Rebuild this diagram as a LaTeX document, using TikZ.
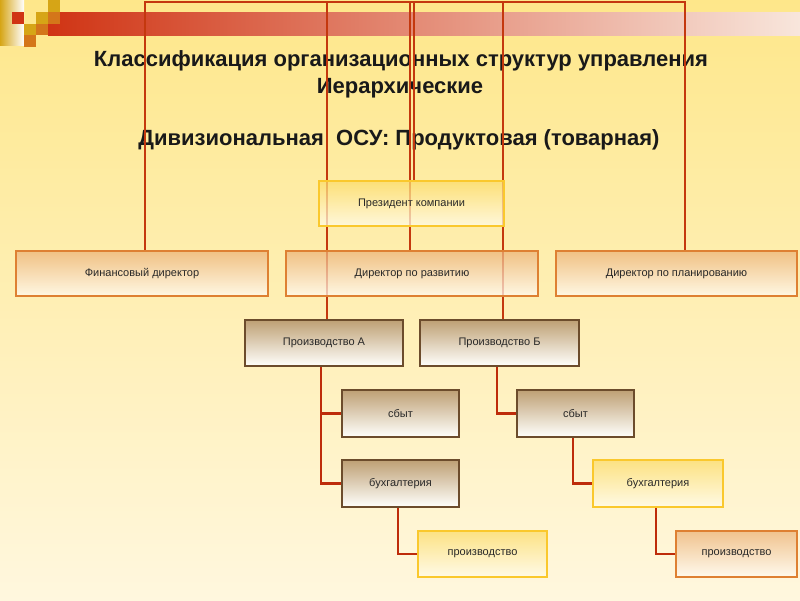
\documentclass[tikz,border=0pt]{standalone}
\usepackage{fontspec}
\setmainfont{Liberation Sans}
\usetikzlibrary{calc}
\pgfdeclarelayer{back}
\pgfdeclarelayer{mid}
\pgfsetlayers{back,mid,main}
\definecolor{bgtop}{RGB}{254,231,138}
\definecolor{bgbot}{RGB}{255,247,222}
\definecolor{linec}{RGB}{196,56,14}
\definecolor{connc}{RGB}{190,44,10}
\definecolor{ybord}{RGB}{250,200,45}
\definecolor{ytop}{RGB}{252,220,105}
\definecolor{ybot}{RGB}{255,252,236}
\definecolor{obord}{RGB}{222,128,50}
\definecolor{otop}{RGB}{236,178,118}
\definecolor{obot}{RGB}{255,251,244}
\definecolor{bbord}{RGB}{108,76,44}
\definecolor{btop}{RGB}{190,160,116}
\definecolor{bbot}{RGB}{255,255,252}
\definecolor{txt}{RGB}{40,40,40}
\definecolor{gold}{RGB}{214,165,22}
\definecolor{decred}{RGB}{208,52,20}
\definecolor{decor}{RGB}{212,118,26}
\tikzset{
  boxbase/.style={rectangle, inner sep=0pt, font=\fontsize{11}{13}\selectfont, text=txt},
  ybox/.style={boxbase, draw=ybord, line width=1.6pt, top color=ytop, bottom color=ybot, fill opacity=0.74, text opacity=1, draw opacity=1},
  obox/.style={boxbase, draw=obord, line width=1.6pt, top color=otop, bottom color=obot, fill opacity=0.74, text opacity=1, draw opacity=1},
  bbox/.style={boxbase, draw=bbord, line width=2pt, top color=btop, bottom color=bbot},
  topline/.style={draw=linec, line width=2pt},
  conn/.style={draw=connc, line width=2.6pt},
  titletext/.style={font=\bfseries\fontsize{22}{26}\selectfont, text=black!90, align=center}
}
\begin{document}
\begin{tikzpicture}[x=1pt,y=-1pt]
\useasboundingbox (0,0) rectangle (800,600);
\begin{pgfonlayer}{back}
% background
\shade[top color=bgtop, bottom color=bgbot] (0,0) rectangle (800,600);
% decoration
\shade[left color=gold, right color=white] (0,0) rectangle (24,45);
\shade[left color=decred, right color={rgb,255:red,248;green,230;blue,220}] (48,12) rectangle (800,35);
\fill[decred] (12,12) rectangle (24,24);
\fill[gold] (48,0) rectangle (60,12);
\fill[gold] (36,12) rectangle (48,24);
\fill[decor] (48,12) rectangle (60,24);
\fill[gold] (24,24) rectangle (36,35);
\fill[decor] (36,24) rectangle (48,35);
\fill[decor] (24,35) rectangle (36,47);
% title
\node[titletext] (title1) at (401,61) {Классификация организационных структур управления};
\node[titletext] (title2) at (400,88) {Иерархические};
\node[titletext] (title3) at (399,140) {Дивизиональная\ \ ОСУ: Продуктовая (товарная)};
\end{pgfonlayer}
% nodes
\node[ybox, minimum width=185pt, minimum height=45pt] (pres) at (411.5,203.5) {Президент компании};
\node[obox, minimum width=252pt, minimum height=45pt] (fin) at (142,273.5) {Финансовый директор};
\node[obox, minimum width=252pt, minimum height=45pt] (dev) at (412,273.5) {Директор по развитию};
\node[obox, minimum width=241pt, minimum height=45pt] (plan) at (676.5,273.5) {Директор по планированию};
\node[bbox, minimum width=158pt, minimum height=46pt] (pa) at (324,343) {Производство А};
\node[bbox, minimum width=159pt, minimum height=46pt] (pb) at (499.5,343) {Производство Б};
\node[bbox, minimum width=117pt, minimum height=47pt] (sa) at (400.5,413.5) {сбыт};
\node[bbox, minimum width=117pt, minimum height=47pt] (sb) at (575.5,413.5) {сбыт};
\node[bbox, minimum width=117pt, minimum height=47pt] (ba) at (400.5,483.5) {бухгалтерия};
\node[ybox, minimum width=130pt, minimum height=47pt] (bb) at (658,483.5) {бухгалтерия};
\node[ybox, minimum width=129pt, minimum height=46pt] (pra) at (482.5,554) {производство};
\node[obox, minimum width=121pt, minimum height=46pt] (prb) at (736.5,554) {производство};
% connectors
\coordinate (t1) at (145,2);
\coordinate (t2) at (327,2);
\coordinate (t3) at (410,2);
\coordinate (t4) at (414,2);
\coordinate (t5) at (503,2);
\coordinate (t6) at (685,2);
\begin{pgfonlayer}{mid}
\draw[topline, line cap=rect] (t1) -- (t6);
\draw[topline] (t1) -- (t1 |- fin.north);
\draw[topline] (t2) -- (t2 |- pa.north);
\draw[topline] (t3) -- (t3 |- dev.north);
\draw[topline] (t4) -- (t4 |- pres.north);
\draw[topline] (t5) -- (t5 |- pb.north);
\draw[topline] (t6) -- (t6 |- plan.north);
\draw[conn] ([xshift=-3pt]pa.south) |- (sa.west);
\draw[conn] ([xshift=-3pt]pa.south) |- (ba.west);
\draw[conn] ([xshift=-2.5pt]pb.south) |- (sb.west);
\draw[conn] ([xshift=-2.5pt]sb.south) |- (bb.west);
\draw[conn] ([xshift=-2.5pt]ba.south) |- (pra.west);
\draw[conn] ([xshift=-2pt]bb.south) |- (prb.west);
\end{pgfonlayer}
\end{tikzpicture}
\end{document}
